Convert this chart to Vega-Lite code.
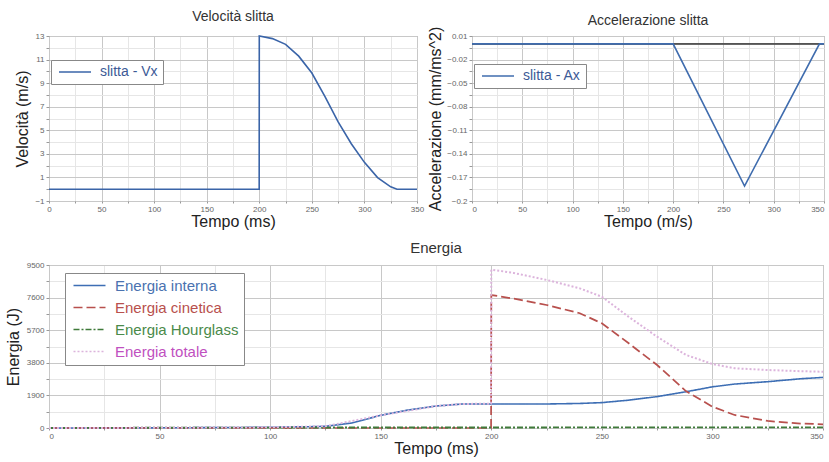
{
  "$schema": "https://vega.github.io/schema/vega-lite/v6.json",
  "background": "white",
  "padding": {"left": 4, "top": 9, "right": 2, "bottom": 0},
  "config": {
    "font": "Liberation Sans",
    "view": {"stroke": "#9a9a9a"},
    "axis": {"labelFontSize": 8, "labelColor": "#666", "titleFontSize": 16, "titleFontWeight": "normal", "titleColor": "#222", "tickSize": 3, "tickColor": "#999", "domain": false, "labelPadding": 2, "titlePadding": 4, "labelFlush": false, "labelOverlap": false},
    "axisX": {"titlePadding": 0, "tickSize": 2},
    "title": {"fontSize": 14, "fontWeight": "normal", "color": "#333", "offset": 12},
    "legend": {"title": null, "orient": "none", "strokeColor": "#888", "fillColor": "white", "padding": 5, "symbolType": "M-4,0H4", "symbolSize": 64, "symbolOffset": 12, "labelOffset": 18, "symbolStrokeWidth": 1.5}
  },
  "datasets": {
    "vel": [
      {"t": 0, "v": 0, "s": "slitta - Vx"},
      {"t": 199.9, "v": 0, "s": "slitta - Vx"},
      {"t": 200, "v": 13, "s": "slitta - Vx"},
      {"t": 212.5, "v": 12.78, "s": "slitta - Vx"},
      {"t": 225, "v": 12.29, "s": "slitta - Vx"},
      {"t": 237.5, "v": 11.29, "s": "slitta - Vx"},
      {"t": 250, "v": 9.86, "s": "slitta - Vx"},
      {"t": 262.5, "v": 7.86, "s": "slitta - Vx"},
      {"t": 275, "v": 5.71, "s": "slitta - Vx"},
      {"t": 287.5, "v": 3.86, "s": "slitta - Vx"},
      {"t": 300, "v": 2.28, "s": "slitta - Vx"},
      {"t": 312.5, "v": 0.99, "s": "slitta - Vx"},
      {"t": 325, "v": 0.2, "s": "slitta - Vx"},
      {"t": 331, "v": 0, "s": "slitta - Vx"},
      {"t": 350, "v": 0, "s": "slitta - Vx"}
    ],
    "acc": [
      {"t": 0, "a": 0, "s": "slitta - Ax"},
      {"t": 200, "a": 0, "s": "slitta - Ax"},
      {"t": 271, "a": -0.181, "s": "slitta - Ax"},
      {"t": 345.5, "a": 0, "s": "slitta - Ax"},
      {"t": 350, "a": 0, "s": "slitta - Ax"}
    ],
    "en": [
      {"t": 0, "e": 0, "s": "Energia interna"},
      {"t": 50, "e": 10, "s": "Energia interna"},
      {"t": 100, "e": 40, "s": "Energia interna"},
      {"t": 120, "e": 80, "s": "Energia interna"},
      {"t": 125, "e": 100, "s": "Energia interna"},
      {"t": 137, "e": 290, "s": "Energia interna"},
      {"t": 150, "e": 740, "s": "Energia interna"},
      {"t": 162, "e": 1040, "s": "Energia interna"},
      {"t": 175, "e": 1280, "s": "Energia interna"},
      {"t": 187, "e": 1400, "s": "Energia interna"},
      {"t": 200, "e": 1400, "s": "Energia interna"},
      {"t": 225, "e": 1400, "s": "Energia interna"},
      {"t": 240, "e": 1430, "s": "Energia interna"},
      {"t": 250, "e": 1480, "s": "Energia interna"},
      {"t": 262, "e": 1620, "s": "Energia interna"},
      {"t": 275, "e": 1830, "s": "Energia interna"},
      {"t": 288, "e": 2110, "s": "Energia interna"},
      {"t": 300, "e": 2400, "s": "Energia interna"},
      {"t": 310, "e": 2560, "s": "Energia interna"},
      {"t": 325, "e": 2700, "s": "Energia interna"},
      {"t": 340, "e": 2870, "s": "Energia interna"},
      {"t": 350, "e": 2950, "s": "Energia interna"},
      {"t": 0, "e": 0, "s": "Energia cinetica"},
      {"t": 199.9, "e": 0, "s": "Energia cinetica"},
      {"t": 200, "e": 7750, "s": "Energia cinetica"},
      {"t": 212, "e": 7500, "s": "Energia cinetica"},
      {"t": 225, "e": 7170, "s": "Energia cinetica"},
      {"t": 240, "e": 6690, "s": "Energia cinetica"},
      {"t": 250, "e": 6100, "s": "Energia cinetica"},
      {"t": 262, "e": 4950, "s": "Energia cinetica"},
      {"t": 275, "e": 3670, "s": "Energia cinetica"},
      {"t": 288, "e": 2150, "s": "Energia cinetica"},
      {"t": 300, "e": 1240, "s": "Energia cinetica"},
      {"t": 310, "e": 760, "s": "Energia cinetica"},
      {"t": 325, "e": 410, "s": "Energia cinetica"},
      {"t": 340, "e": 260, "s": "Energia cinetica"},
      {"t": 350, "e": 215, "s": "Energia cinetica"},
      {"t": 0, "e": 0, "s": "Energia Hourglass"},
      {"t": 50, "e": 15, "s": "Energia Hourglass"},
      {"t": 100, "e": 25, "s": "Energia Hourglass"},
      {"t": 150, "e": 30, "s": "Energia Hourglass"},
      {"t": 200, "e": 30, "s": "Energia Hourglass"},
      {"t": 250, "e": 35, "s": "Energia Hourglass"},
      {"t": 300, "e": 40, "s": "Energia Hourglass"},
      {"t": 350, "e": 40, "s": "Energia Hourglass"},
      {"t": 0, "e": 0, "s": "Energia totale"},
      {"t": 50, "e": 10, "s": "Energia totale"},
      {"t": 100, "e": 40, "s": "Energia totale"},
      {"t": 125, "e": 100, "s": "Energia totale"},
      {"t": 150, "e": 740, "s": "Energia totale"},
      {"t": 175, "e": 1280, "s": "Energia totale"},
      {"t": 187, "e": 1400, "s": "Energia totale"},
      {"t": 199.9, "e": 1420, "s": "Energia totale"},
      {"t": 200, "e": 9230, "s": "Energia totale"},
      {"t": 210, "e": 9040, "s": "Energia totale"},
      {"t": 225, "e": 8630, "s": "Energia totale"},
      {"t": 240, "e": 8140, "s": "Energia totale"},
      {"t": 250, "e": 7650, "s": "Energia totale"},
      {"t": 262, "e": 6490, "s": "Energia totale"},
      {"t": 275, "e": 5320, "s": "Energia totale"},
      {"t": 288, "e": 4260, "s": "Energia totale"},
      {"t": 300, "e": 3730, "s": "Energia totale"},
      {"t": 310, "e": 3480, "s": "Energia totale"},
      {"t": 325, "e": 3380, "s": "Energia totale"},
      {"t": 340, "e": 3310, "s": "Energia totale"},
      {"t": 350, "e": 3280, "s": "Energia totale"}
    ]
  },
  "resolve": {"scale": {"color": "independent", "strokeDash": "independent"}, "legend": {"color": "independent"}},
  "spacing": 10,
  "vconcat": [
    {
      "resolve": {"scale": {"color": "independent"}, "legend": {"color": "independent"}},
      "spacing": 2,
      "hconcat": [
        {
          "title": {"text": "Velocità slitta", "offset": 8},
          "width": 368,
          "height": 165,
          "data": {"name": "vel"},
          "mark": {"type": "line", "strokeWidth": 1.6},
          "encoding": {
            "x": {"field": "t", "type": "quantitative", "scale": {"domain": [0, 350], "nice": false},
              "axis": {"title": "Tempo (ms)", "values": [0,25,50,75,100,125,150,175,200,225,250,275,300,325,350],
                "labelExpr": "datum.value % 50 == 0 ? datum.label : ''",
                "gridColor": {"condition": {"test": "datum.value % 50 == 0", "value": "#c8c8c8"}, "value": "#e6e6e6"}}},
            "y": {"field": "v", "type": "quantitative", "scale": {"domain": [-1, 13], "nice": false, "zero": false},
              "axis": {"title": "Velocità (m/s)", "labelOverlap": false, "values": [-1,0,1,2,3,4,5,6,7,8,9,10,11,12,13],
                "labelExpr": "abs(datum.value) % 2 == 1 ? datum.label : ''",
                "gridColor": {"condition": {"test": "abs(datum.value) % 2 == 1", "value": "#c8c8c8"}, "value": "#e6e6e6"}}},
            "color": {"field": "s", "type": "nominal", "scale": {"range": ["#3a64a8"]},
              "legend": {"legendX": 2, "legendY": 24, "labelFontSize": 14, "labelColor": "#3c5a96"}}
          }
        },
        {
          "title": {"text": "Accelerazione slitta", "offset": -2},
          "width": 352,
          "height": 165,
          "data": {"name": "acc"},
          "encoding": {
            "x": {"field": "t", "type": "quantitative", "scale": {"domain": [0, 350], "nice": false},
              "axis": {"title": "Tempo (m/s)", "labelFlush": true, "values": [0,25,50,75,100,125,150,175,200,225,250,275,300,325,350],
                "labelExpr": "datum.value % 50 == 0 ? datum.label : ''",
                "gridColor": {"condition": {"test": "datum.value % 50 == 0", "value": "#c8c8c8"}, "value": "#e6e6e6"}}},
            "y": {"field": "a", "type": "quantitative", "scale": {"domain": [-0.2, 0.01], "nice": false, "zero": false},
              "axis": {"title": "Accelerazione (mm/ms^2)", "titlePadding": 3, "labelOverlap": false, "values": [0.01,-0.005,-0.02,-0.035,-0.05,-0.065,-0.08,-0.095,-0.11,-0.125,-0.14,-0.155,-0.17,-0.185,-0.2],
                "labelExpr": "(abs(datum.value*1000 - 10) + 5) % 30 < 10 ? format(datum.value, '.2~f') : ''",
                "gridColor": {"condition": {"test": "(abs(datum.value*1000 - 10) + 5) % 30 < 10", "value": "#c8c8c8"}, "value": "#e6e6e6"}}}
          },
          "layer": [
            {"mark": {"type": "rule", "color": "#555", "strokeWidth": 1}, "encoding": {"x": null, "y": {"datum": 0}}},
            {
              "mark": {"type": "line", "strokeWidth": 1.6},
              "encoding": {
                "color": {"field": "s", "type": "nominal", "scale": {"range": ["#3f6cae"]},
                  "legend": {"legendX": 2, "legendY": 28, "labelFontSize": 14, "labelColor": "#3c5a96"}}
              }
            }
          ]
        }
      ]
    },
    {
      "hconcat": [
        {
          "title": {"text": "Energia", "offset": 5, "fontSize": 15},
          "width": 774,
          "height": 163,
          "data": {"name": "en"},
          "mark": {"type": "line"},
          "encoding": {
            "x": {"field": "t", "type": "quantitative", "scale": {"domain": [0, 350], "nice": false},
              "axis": {"title": "Tempo (ms)", "labelFlush": true, "values": [0,25,50,75,100,125,150,175,200,225,250,275,300,325,350],
                "labelExpr": "datum.value % 50 == 0 ? datum.label : ''",
                "gridColor": {"condition": {"test": "datum.value % 50 == 0", "value": "#c8c8c8"}, "value": "#e6e6e6"}}},
            "y": {"field": "e", "type": "quantitative", "scale": {"domain": [0, 9500], "nice": false},
              "axis": {"title": "Energia (J)", "titlePadding": 5, "labelOverlap": false, "values": [0,950,1900,2850,3800,4750,5700,6650,7600,8550,9500],
                "labelExpr": "datum.value % 1900 == 0 ? datum.value : ''",
                "gridColor": {"condition": {"test": "datum.value % 1900 == 0", "value": "#c8c8c8"}, "value": "#e6e6e6"}}},
            "color": {"field": "s", "type": "nominal",
              "scale": {"domain": ["Energia interna", "Energia cinetica", "Energia Hourglass", "Energia totale"], "range": ["#3d6eb4", "#b8504d", "#3f7a3a", "#dcb4dc"]},
              "legend": {"legendX": 16, "legendY": 8, "labelFontSize": 15, "rowPadding": 6,
                "labelColor": {"expr": "datum.label == 'Energia interna' ? '#4a72b0' : datum.label == 'Energia cinetica' ? '#b8504d' : datum.label == 'Energia Hourglass' ? '#4a8a4a' : '#c050c0'"}}},
            "strokeDash": {"field": "s", "type": "nominal",
              "scale": {"domain": ["Energia interna", "Energia cinetica", "Energia Hourglass", "Energia totale"], "range": [[1, 0], [9, 4], [6, 2, 2, 2], [2, 2]]}},
            "strokeWidth": {"field": "s", "type": "nominal",
              "scale": {"domain": ["Energia interna", "Energia cinetica", "Energia Hourglass", "Energia totale"], "range": [1.6, 2, 1.5, 1.3]}, "legend": null}
          }
        }
      ]
    }
  ]
}
